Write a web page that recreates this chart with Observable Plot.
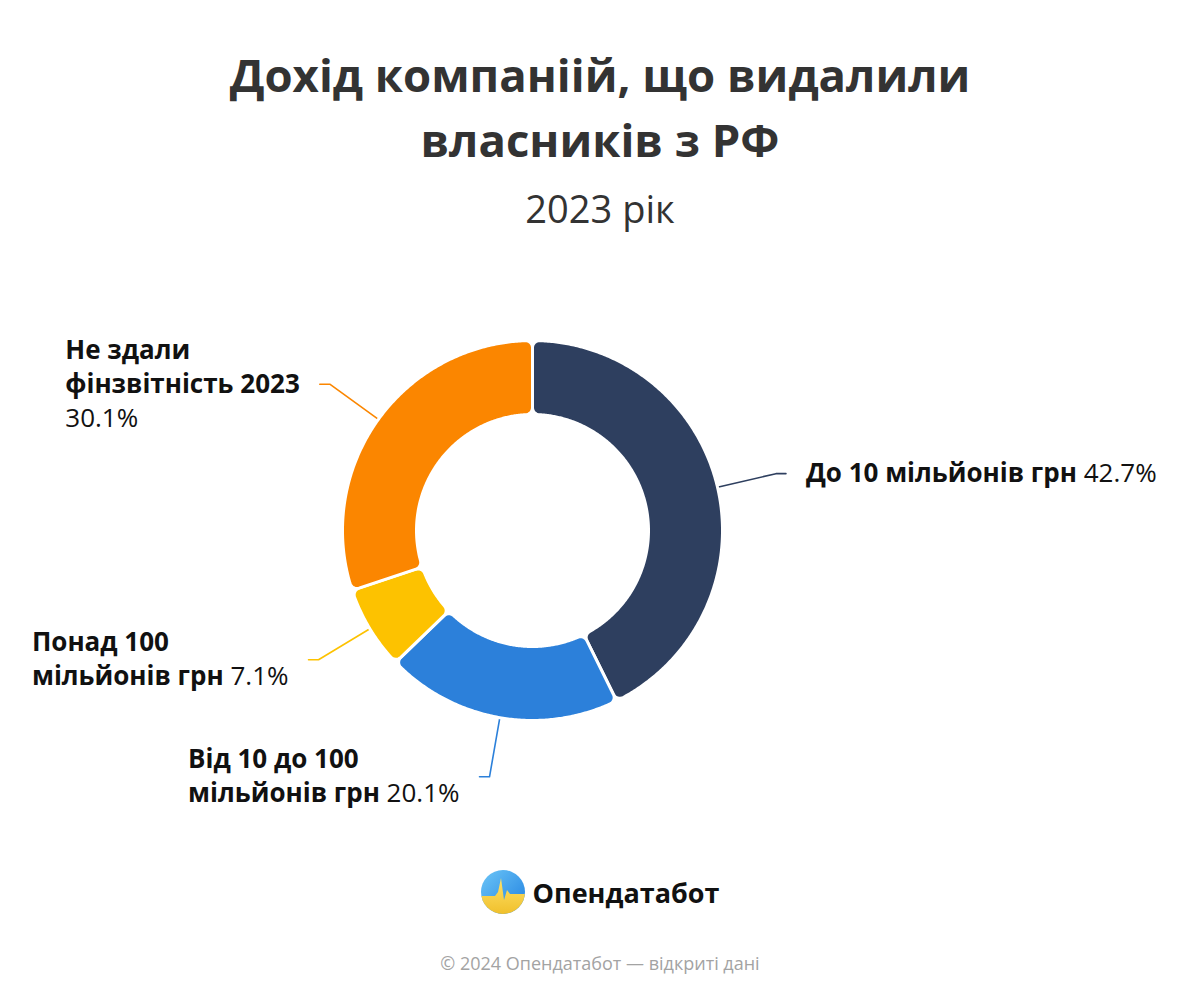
<!DOCTYPE html>
<html><head><meta charset="utf-8">
<script src="https://cdn.jsdelivr.net/npm/d3@7"></script>
<script src="https://cdn.jsdelivr.net/npm/@observablehq/plot@0.6"></script>
<style>
body{margin:0;background:#fff;font-family:"Open Sans",sans-serif;}
#page{position:relative;width:1200px;height:1000px;overflow:hidden;background:#fff}
.title{position:absolute;left:0;width:1200px;text-align:center;color:#333;font-weight:700;font-size:45.5px;line-height:65px;top:42px;margin:0}
.sub{position:absolute;left:0;width:1200px;text-align:center;color:#333;font-size:38px;line-height:48px;top:184px;margin:0}
#chart{position:absolute;left:0;top:260px}
.logo{position:absolute;top:870px;left:0;width:1200px;height:44px;display:flex;justify-content:center;align-items:center;gap:8px}
.logo span{font-weight:700;font-size:27px;color:#111}
.foot{position:absolute;top:950px;left:0;width:1200px;text-align:center;color:#a3a3a3;font-size:18px;line-height:26px}
</style></head>
<body><div id="page">
<h1 class="title">Дохід компаніій, що видалили<br>власників з РФ</h1>
<h2 class="sub" style="font-weight:400">2023 рік</h2>
<div id="chart"></div>
<div class="logo">
<svg width="44" height="44" viewBox="0 0 44 44">
<defs>
<clipPath id="cc"><circle cx="22" cy="22" r="22"/></clipPath>
<linearGradient id="gb" x1="0" y1="0" x2="1" y2="1"><stop offset="0" stop-color="#6cc6f7"/><stop offset="1" stop-color="#1f7fe0"/></linearGradient>
<linearGradient id="gy" x1="0" y1="0" x2="0" y2="1"><stop offset="0" stop-color="#ffe26a"/><stop offset="1" stop-color="#f0c02c"/></linearGradient>
</defs>
<g clip-path="url(#cc)">
<rect width="44" height="44" fill="url(#gb)"/>
<path d="M0 26 L14 26 L17 22 L20 8 L23 30 L26 20 L29 24 L44 24 L44 44 L0 44Z" fill="url(#gy)"/>
</g>
</svg>
<span>Опендатабот</span>
</div>
<div class="foot">© 2024 Опендатабот — відкриті дані</div>
</div>
<script>
// ---- data ----
const categories = ["До 10 мільйонів грн", "Від 10 до 100 мільйонів грн", "Понад 100 мільйонів грн", "Не здали фінзвітність 2023"];
const shares = [42.7, 20.1, 7.1, 30.1];
const colors = ["#2e3f5f", "#2c80da", "#fdc200", "#fb8600"];
const labelLines = [["До 10 мільйонів грн"], ["Від 10 до 100", "мільйонів грн"], ["Понад 100", "мільйонів грн"], ["Не здали", "фінзвітність 2023"]];
const pctOwnLine = [false, false, false, true];

// ---- geometry (pixel units, origin at donut centre, y downward) ----
const R = 190, r = 116, rc = 7, elbowR = 250, hseg = 10, gap = 20, lineH = 34, fs = 26;
const P = (rad, t) => [rad * Math.sin(t), -rad * Math.cos(t)];
function fillet(c, p, q, n = 8) {
  const a0 = Math.atan2(p[1] - c[1], p[0] - c[0]);
  let d = Math.atan2(q[1] - c[1], q[0] - c[0]) - a0;
  while (d > Math.PI) d -= 2 * Math.PI;
  while (d < -Math.PI) d += 2 * Math.PI;
  const rr = Math.hypot(p[0] - c[0], p[1] - c[1]);
  const out = [];
  for (let k = 0; k <= n; k++) { const a = a0 + d * k / n; out.push([c[0] + rr * Math.cos(a), c[1] + rr * Math.sin(a)]); }
  return out;
}
function arcPts(rad, t0, t1) {
  const n = Math.max(2, Math.ceil(Math.abs(t1 - t0) / (Math.PI / 360)));
  return d3.range(n + 1).map(k => P(rad, t0 + (t1 - t0) * k / n));
}
function slice(t0, t1) {
  const dO = Math.asin(rc / (R - rc)), dI = Math.asin(rc / (r + rc));
  const pts = [];
  pts.push(...fillet(P(R - rc, t0 + dO), P((R - rc) * Math.cos(dO), t0), P(R, t0 + dO)));
  pts.push(...arcPts(R, t0 + dO, t1 - dO));
  pts.push(...fillet(P(R - rc, t1 - dO), P(R, t1 - dO), P((R - rc) * Math.cos(dO), t1)));
  pts.push(...fillet(P(r + rc, t1 - dI), P((r + rc) * Math.cos(dI), t1), P(r, t1 - dI)));
  pts.push(...arcPts(r, t1 - dI, t0 + dI));
  pts.push(...fillet(P(r + rc, t0 + dI), P(r, t0 + dI), P((r + rc) * Math.cos(dI), t0)));
  return pts;
}

const total = d3.sum(shares);
const cum = d3.cumsum(shares);
const slicePts = [], leaderPts = [], pieces = [];
const ctx = document.createElement("canvas").getContext("2d");
const measure = (s, w) => { ctx.font = `${w} ${fs}px "Open Sans"`; return ctx.measureText(s).width; };

categories.forEach((cat, i) => {
  const t0 = 2 * Math.PI * (cum[i] - shares[i]) / total;
  const t1 = 2 * Math.PI * cum[i] / total;
  slice(t0, t1).forEach(([x, y]) => slicePts.push({cat, x, y}));
  const tm = (t0 + t1) / 2;
  const side = Math.sin(tm) >= 0 ? 1 : -1;
  const s = P(R, tm), e = P(elbowR, tm), end = [e[0] + side * hseg, e[1]];
  [s, e, end].forEach(([x, y]) => leaderPts.push({cat, x, y}));
  // label pieces
  const pct = shares[i].toFixed(1) + "%";
  const lines = labelLines[i].map(t => ({bold: t, reg: null}));
  if (pctOwnLine[i]) lines.push({bold: null, reg: pct}); else lines[lines.length - 1].reg = pct;
  const spaceW = measure(" ", 400);
  const widths = lines.map(l => (l.bold ? measure(l.bold, 700) : 0) + (l.bold && l.reg ? spaceW : 0) + (l.reg ? measure(l.reg, 400) : 0));
  const blockW = d3.max(widths);
  const x0 = side > 0 ? end[0] + gap : end[0] - gap - blockW;
  lines.forEach((l, j) => {
    const y = end[1] + (j - (lines.length - 1) / 2) * lineH;
    if (l.bold) pieces.push({x: x0, y, text: l.bold, bold: true});
    if (l.reg) pieces.push({x: x0 + (l.bold ? measure(l.bold, 700) + spaceW : 0), y, text: l.reg, bold: false});
  });
});

const chart = Plot.plot({
  width: 1200, height: 600, margin: 0,
  x: {domain: [-532, 668], range: [0, 1200], axis: null},
  y: {domain: [-270, 330], range: [0, 600], axis: null},
  color: {domain: categories, range: colors},
  style: {fontFamily: '"Open Sans", sans-serif', background: "white"},
  marks: [
    Plot.line(leaderPts, {x: "x", y: "y", z: "cat", stroke: "cat", strokeWidth: 1.6}),
    Plot.line(slicePts, {x: "x", y: "y", z: "cat", fill: "cat", stroke: "white", strokeWidth: 3, curve: "linear-closed"}),
    Plot.text(pieces.filter(d => d.bold), {x: "x", y: "y", text: "text", textAnchor: "start", lineAnchor: "middle", fontSize: fs, fontWeight: 700, fill: "#111"}),
    Plot.text(pieces.filter(d => !d.bold), {x: "x", y: "y", text: "text", textAnchor: "start", lineAnchor: "middle", fontSize: fs, fontWeight: 400, fill: "#111"})
  ]
});
document.getElementById("chart").appendChild(chart);
</script>
</body></html>
